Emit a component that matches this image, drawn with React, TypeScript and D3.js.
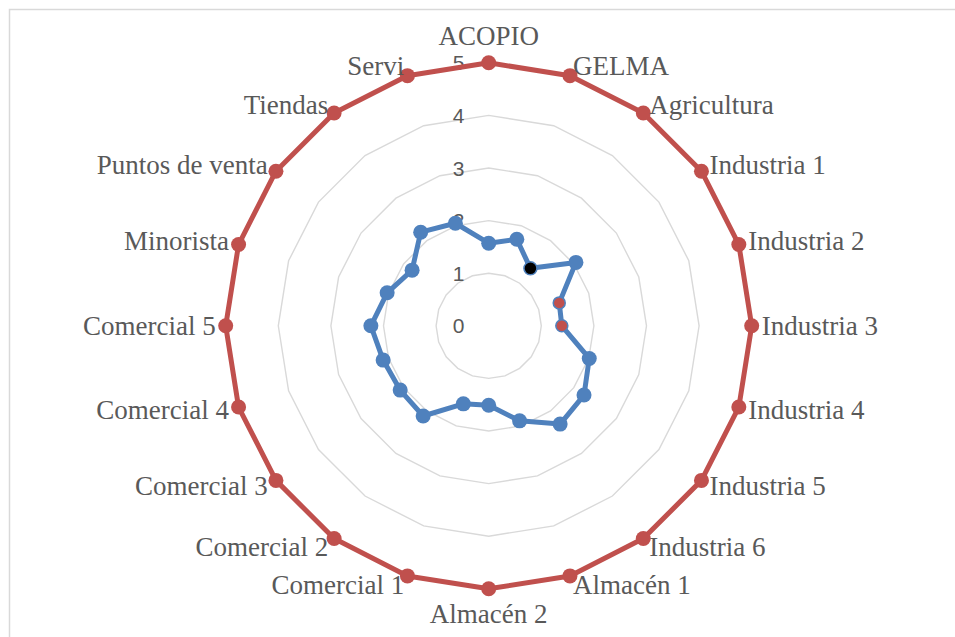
import React from 'react';
import * as d3 from 'd3';

const categories = [
  'ACOPIO', 'GELMA', 'Agricultura', 'Industria 1', 'Industria 2', 'Industria 3',
  'Industria 4', 'Industria 5', 'Industria 6', 'Almacén 1', 'Almacén 2',
  'Comercial 1', 'Comercial 2', 'Comercial 3', 'Comercial 4', 'Comercial 5',
  'Minorista', 'Puntos de venta', 'Tiendas', 'Servi',
];
const targetValues = [5, 5, 5, 5, 5, 5, 5, 5, 5, 5, 5, 5, 5, 5, 5, 5, 5, 5, 5, 5];
const actualValues = [
  1.57, 1.73, 1.35, 2.05, 1.41, 1.39, 2.01, 2.24, 2.31, 1.9, 1.51,
  1.56, 2.12, 2.08, 2.11, 2.24, 2.03, 1.8, 2.2, 2.05,
];
const tickValues = [0, 1, 2, 3, 4, 5];
const blackPointCategories = ['Agricultura'];
const redPointCategories = ['Industria 2', 'Industria 3'];

export default function App() {
  const W = 955, H = 637;
  const cx = 488.7, cy = 325.8, R = 263;
  const n = categories.length;
  const r = d3.scaleLinear().domain([0, 5]).range([0, R]);
  const ang = (i: number) => (i * 2 * Math.PI) / n;
  const px = (i: number, v: number) => cx + r(v) * Math.sin(ang(i));
  const py = (i: number, v: number) => cy - r(v) * Math.cos(ang(i));

  const radial = d3
    .lineRadial<number>()
    .angle((_, i) => ang(i))
    .radius((d) => r(d))
    .curve(d3.curveLinearClosed);

  const red = '#C0504D';
  const blue = '#4F81BD';
  const grid = '#d9d9d9';
  const textCol = '#595959';

  return (
    <svg
      width={W}
      height={H}
      style={{ position: 'absolute', left: 0, top: 0, background: '#fff' }}
    >
      <rect x={9.5} y={9.5} width={1200} height={1200} fill="#fff" stroke={grid} strokeWidth={1.5} />
      <g transform={`translate(${cx},${cy})`}>
        {tickValues.filter((t) => t > 0).map((t) => (
          <path
            key={t}
            d={radial(categories.map(() => t)) || ''}
            fill="none"
            stroke={grid}
            strokeWidth={1.4}
          />
        ))}
      </g>
      {tickValues.map((t) => (
        <text
          key={t}
          x={cx - 30}
          y={cy - r(t)}
          dy="0.36em"
          textAnchor="middle"
          fontFamily="'Liberation Sans', Arial, sans-serif"
          fontSize={21}
          fill={textCol}
        >
          {t}
        </text>
      ))}
      <g transform={`translate(${cx},${cy})`}>
        <path d={radial(actualValues) || ''} fill="none" stroke={blue} strokeWidth={5} strokeLinejoin="round" />
        <path d={radial(targetValues) || ''} fill="none" stroke={red} strokeWidth={5} strokeLinejoin="round" />
      </g>
      {actualValues.map((v, i) => {
        const c = categories[i];
        const isBlack = blackPointCategories.includes(c);
        const isRed = redPointCategories.includes(c);
        if (isBlack)
          return <circle key={'a' + i} cx={px(i, v)} cy={py(i, v)} r={6.5} fill="#000" stroke={blue} strokeWidth={1.5} />;
        if (isRed)
          return <circle key={'a' + i} cx={px(i, v)} cy={py(i, v)} r={6} fill={red} stroke={blue} strokeWidth={1.5} />;
        return <circle key={'a' + i} cx={px(i, v)} cy={py(i, v)} r={7.5} fill={blue} />;
      })}
      {targetValues.map((v, i) => (
        <circle key={'t' + i} cx={px(i, v)} cy={py(i, v)} r={7.5} fill={red} />
      ))}
      {categories.map((c, i) => {
        const a = ang(i);
        const s = Math.sin(a), co = Math.cos(a);
        const x = cx + (R + 10) * s;
        const y = cy - (R + 10) * co;
        let anchor: 'start' | 'end' | 'middle' = 'middle';
        let by = y + 9;
        if (Math.abs(s) < 0.01) {
          anchor = 'middle';
          by = co > 0 ? y - 8 : y + 24;
        } else {
          anchor = s > 0 ? 'start' : 'end';
        }
        return (
          <text
            key={c}
            x={x}
            y={by}
            textAnchor={anchor}
            fontFamily="'Liberation Serif', 'Times New Roman', serif"
            fontSize={27}
            fill={textCol}
          >
            {c}
          </text>
        );
      })}
    </svg>
  );
}
